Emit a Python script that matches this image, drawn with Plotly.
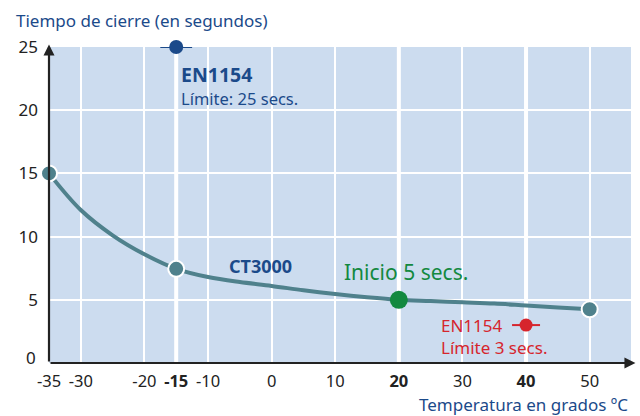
import plotly.graph_objects as go

# Data
curve_x = [-35, -30, -25, -20, -15, -10, -5, 0, 5, 10, 15, 20, 25, 30, 35, 40, 45, 50]
curve_y = [15, 12.1, 10.1, 8.6, 7.45, 6.8, 6.4, 6.1, 5.75, 5.45, 5.2, 5.0, 4.9, 4.8, 4.7, 4.55, 4.4, 4.25]
key_x = [-35, -15, 50]
key_y = [15, 7.45, 4.25]
start_x = [20]
start_y = [5.0]
en_top_x = [-15]
en_top_y = [25]
en_low_x = [40]
en_low_y = [3]
xtick_vals = [-35, -30, -20, -15, -10, 0, 10, 20, 30, 40, 50]
xtick_text = ["-35", "-30", "-20", "<b>-15</b>", "-10", "0", "10", "<b>20</b>", "30", "<b>40</b>", "50"]
ytick_vals = [5, 10, 15, 20, 25]
ytick_zero = "0"
bold_x = [-15, 20, 40]

TEAL = "#4F818C"
NAVY = "#1B4A8A"
GREEN = "#13893F"
RED = "#D6252D"
FONT = "Noto Sans"

fig = go.Figure()

fig.add_trace(go.Scatter(x=curve_x, y=curve_y, mode="lines",
                         line=dict(color=TEAL, width=4, shape="spline", smoothing=1.0),
                         cliponaxis=False, hoverinfo="skip"))
fig.add_trace(go.Scatter(x=key_x, y=key_y, mode="markers",
                         marker=dict(color=TEAL, size=16, line=dict(color="white", width=2)),
                         cliponaxis=False))
fig.add_trace(go.Scatter(x=start_x, y=start_y, mode="markers",
                         marker=dict(color=GREEN, size=18, line=dict(color=GREEN, width=0)),
                         cliponaxis=False))
fig.add_trace(go.Scatter(x=en_top_x, y=en_top_y, mode="markers",
                         marker=dict(color=NAVY, size=14),
                         error_x=dict(type="constant", value=2.5, color=NAVY, thickness=2, width=0),
                         cliponaxis=False))
fig.add_trace(go.Scatter(x=en_low_x, y=en_low_y, mode="markers",
                         marker=dict(color=RED, size=13),
                         error_x=dict(type="constant", value=2.2, color=RED, thickness=2, width=0),
                         cliponaxis=False))

shapes = []
for bx in bold_x:
    shapes.append(dict(type="line", xref="x", yref="y", x0=bx, x1=bx, y0=0, y1=25,
                       line=dict(color="white", width=4), layer="below"))

annotations = [
    # axis arrows
    dict(x=-35, y=25.2, ax=-35, ay=0, xref="x", yref="y", axref="x", ayref="y",
         showarrow=True, arrowhead=2, arrowsize=1, arrowwidth=2.2, arrowcolor="#222", text=""),
    dict(x=57.2, y=0, ax=-35, ay=0, xref="x", yref="y", axref="x", ayref="y",
         showarrow=True, arrowhead=2, arrowsize=1, arrowwidth=2.2, arrowcolor="#222", text=""),
    dict(x=0.0, y=0.0, xref="paper", yref="paper", xshift=-11, yshift=6, xanchor="right", yanchor="middle",
         text=ytick_zero, showarrow=False, font=dict(color="#222", size=17, family=FONT)),
    dict(x=0.0, y=1.0, xref="paper", yref="paper", xshift=-35, yshift=27, xanchor="left", yanchor="middle",
         text="Tiempo de cierre (en segundos)", showarrow=False, font=dict(color=NAVY, size=17, family=FONT)),
    dict(x=1.0, y=0.0, xref="paper", yref="paper", xshift=-1, yshift=-41, xanchor="right", yanchor="middle",
         text="Temperatura en grados ºC", showarrow=False, font=dict(color=NAVY, size=17, family=FONT)),
    dict(x=-14.6, y=22.8, xref="x", yref="y", xanchor="left", yanchor="middle",
         text="<b>EN1154</b>", showarrow=False, font=dict(color=NAVY, size=19.5, family=FONT)),
    dict(x=-14.6, y=20.9, xref="x", yref="y", xanchor="left", yanchor="middle",
         text="Límite: 25 secs.", showarrow=False, font=dict(color=NAVY, size=16.5, family=FONT)),
    dict(x=-7.0, y=7.7, xref="x", yref="y", xanchor="left", yanchor="middle",
         text="<b>CT3000</b>", showarrow=False, font=dict(color=NAVY, size=18, family=FONT)),
    dict(x=11.0, y=7.2, xref="x", yref="y", xanchor="left", yanchor="middle",
         text="Inicio 5 secs.", showarrow=False, font=dict(color=GREEN, size=21, family=FONT)),
    dict(x=26.3, y=3.0, xref="x", yref="y", xanchor="left", yanchor="middle",
         text="EN1154", showarrow=False, font=dict(color=RED, size=17, family=FONT)),
    dict(x=26.3, y=1.2, xref="x", yref="y", xanchor="left", yanchor="middle",
         text="Límite 3 secs.", showarrow=False, font=dict(color=RED, size=17, family=FONT)),
]

fig.update_layout(
    width=640, height=416,
    margin=dict(l=49, r=9, t=47, b=53),
    paper_bgcolor="white", plot_bgcolor="#CCDCEF",
    showlegend=False,
    font=dict(family=FONT, color="#222", size=17),
    shapes=shapes, annotations=annotations,
    xaxis=dict(range=[-35, 56.5], tickmode="array", tickvals=xtick_vals, ticktext=xtick_text,
               showgrid=True, gridcolor="white", gridwidth=1.5, zeroline=False, showline=False,
               ticks="", ticklabelstandoff=6, automargin=False, fixedrange=True,
               tickfont=dict(size=16.5)),
    yaxis=dict(range=[0, 25], tickmode="array", tickvals=ytick_vals,
               showgrid=True, gridcolor="white", gridwidth=1.5, zeroline=False, showline=False,
               ticks="", ticklabelstandoff=10, automargin=False, fixedrange=True,
               tickfont=dict(size=17)),
)

fig.write_html("out.html", config={"displayModeBar": False},
               post_script="document.body.style.margin='0';document.body.style.overflow='hidden';")
